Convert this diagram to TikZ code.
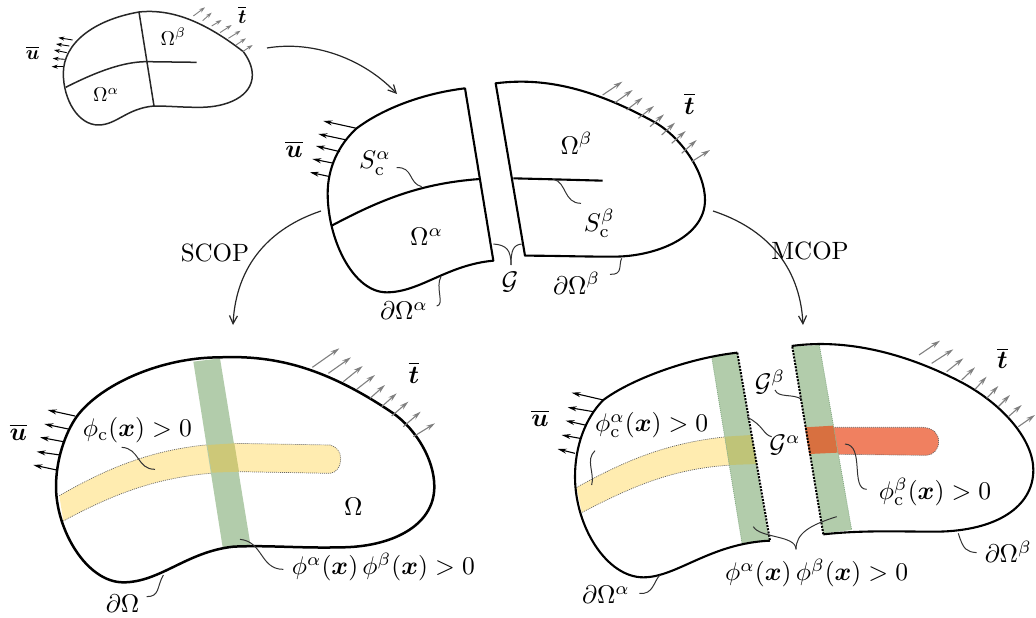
\documentclass[tikz,border=0pt]{standalone}
\usepackage{amsmath,bm}
\usetikzlibrary{arrows.meta}
\definecolor{bandgreen}{HTML}{B2CCAB}
\definecolor{bandyellow}{HTML}{FFECB0}
\definecolor{bandred}{HTML}{F08060}
\definecolor{overyellow}{HTML}{CDC878}
\definecolor{overgreen}{HTML}{BFC478}
\definecolor{overred}{HTML}{D87040}
\definecolor{tgray}{HTML}{808080}
\tikzset{
  lbl/.style={scale=2.55,inner sep=0pt},
  slbl/.style={scale=2.0,inner sep=0pt},
  rlbl/.style={scale=2.5,inner sep=0pt},
  bdy/.style={line width=2.1pt,black,line join=round},
  bdybig/.style={line width=2.5pt,black,line join=round},
  bdysmall/.style={line width=1.5pt,black!85,line join=round},
  leader/.style={line width=1pt,black!80},
  flow/.style={line width=1.2pt,black!85,-{Straight Barb[length=8pt,width=8pt]}},
  uarr/.style={line width=1.1pt,black,-{Stealth[length=9pt,width=5pt]}},
  tarr/.style={line width=1.1pt,tgray,-{Stealth[length=9pt,width=5pt]}},
  uarrs/.style={line width=0.9pt,black,-{Stealth[length=6pt,width=4pt]}},
  tarrs/.style={line width=0.9pt,tgray,-{Stealth[length=6pt,width=4pt]}},
  edgedot/.style={line width=2pt,black,dash pattern=on 2pt off 1.3pt},
  thindot/.style={line width=0.7pt,black!60,dash pattern=on 1pt off 1pt},
  greendot/.style={line width=0.7pt,green!30!black!50,dash pattern=on 1pt off 1pt}
}
\begin{document}
\begin{tikzpicture}[x=1pt,y=-1pt]
\useasboundingbox (0,0) rectangle (1036,618);

% ---------- small top-left body
\begin{scope}[shift={(0,0)},scale=1/3]
\draw[bdysmall] (417,36) .. controls (520,25) and (620,70) .. (730,155) .. controls (745,175) and (757,200) .. (757,225) .. controls (757,290) and (680,322) .. (600,322) .. controls (540,322) and (510,318) .. (462,318) .. controls (380,325) and (350,375) .. (295,375) .. controls (235,375) and (190,300) .. (190,220) .. controls (190,130) and (280,60) .. (417,36) -- cycle;
\draw[bdysmall] (417,36) -- (462,318);
\draw[bdysmall] (197,262) .. controls (290,215) and (370,185) .. (440,185) -- (590,187);
\foreach \a/\b/\c/\d in {218/120/175/113,208/138/168/132,200/158/162/150,194/178/158/175,190/200/155/200}
  \draw[uarrs] (\a,\b) -- (\c,\d);
\foreach \a/\b/\c/\d in {580/48/615/22,608/62/635/38,635/78/665/60,660/98/695/75,685/115/722/92,708/135/738/115,728/155/758/135}
  \draw[tarrs] (\a,\b) -- (\c,\d);
\node[slbl] (uS) at (98,158) {$\overline{\bm{u}}$};
\node[slbl] (tS) at (727,45) {$\overline{\bm{t}}$};
\node[slbl] (oaS) at (318,285) {$\Omega^{\alpha}$};
\node[slbl] (obS) at (520,110) {$\Omega^{\beta}$};
\end{scope}

% ---------- middle body
\begin{scope}[shift={(280,60)},scale=1/3]
\draw[bdy] (555,85) .. controls (430,100) and (310,145) .. (230,205) .. controls (175,255) and (143,325) .. (143,400) .. controls (143,540) and (220,697) .. (320,697) .. controls (420,697) and (500,615) .. (640,602) -- cycle;
\draw[bdy] (155,497) .. controls (300,420) and (420,370) .. (600,357);
\draw[bdy] (647,70) .. controls (800,50) and (950,90) .. (1130,190) .. controls (1210,240) and (1275,340) .. (1275,420) .. controls (1275,530) and (1130,590) .. (1000,590) .. controls (900,590) and (820,587) .. (735,587) -- cycle;
\draw[bdy] (700,355) -- (820,358) -- (968,362);
\foreach \a/\b/\c/\d in {230/205/130/183,200/240/115/222,180/275/108/258,162/310/97/297,150/350/90/337}
  \draw[uarr] (\a,\b) -- (\c,\d);
\foreach \a/\b/\c/\d in {968/105/1027/65,1005/128/1058/90,1040/150/1088/113,1075/175/1122/138,1110/200/1152/163,1145/225/1185/188,1175/250/1217/213,1205/280/1250/240,1235/305/1290/270}
  \draw[tarr] (\a,\b) -- (\c,\d);
\draw[leader] (350,323) .. controls (400,320) and (385,370) .. (425,380);
\draw[leader] (820,358) .. controls (860,365) and (850,430) .. (903,430);
\draw[leader] (640,552) .. controls (680,555) and (693,570) .. (693,615);
\draw[leader] (725,552) .. controls (700,555) and (693,570) .. (693,615);
\draw[leader] (483,650) .. controls (465,680) and (495,735) .. (470,738);
\draw[leader] (1025,595) .. controls (1015,615) and (1030,645) .. (990,643);
\node[lbl] (ob) at (890,250) {$\Omega^{\beta}$};
\node[lbl] (oa) at (440,530) {$\Omega^{\alpha}$};
\node[lbl] (sa) at (285,310) {$S_{\mathrm{c}}^{\alpha}$};
\node[lbl] (sb) at (958,490) {$S_{\mathrm{c}}^{\beta}$};
\node[lbl] (um) at (42,268) {$\overline{\bm{u}}$};
\node[lbl] (tm) at (1228,132) {$\overline{\bm{t}}$};
\node[lbl] (g) at (690,665) {$\mathcal{G}$};
\node[lbl] (dob) at (890,670) {$\partial\Omega^{\beta}$};
\node[lbl] (doa) at (372,752) {$\partial\Omega^{\alpha}$};
\end{scope}

% ---------- connectors between stages
\coordinate (a0) at (267,48);
\coordinate (a1) at (397,94);
\coordinate (b0) at (321,211);
\coordinate (b1) at (233,325);
\coordinate (c0) at (713,211);
\coordinate (c1) at (803,325);
\draw[flow] (a0) .. controls (315,40) and (365,60) .. (a1);
\draw[flow] (b0) .. controls (270,228) and (236,265) .. (b1);
\draw[flow] (c0) .. controls (765,228) and (800,265) .. (c1);
\node[rlbl] (scop) at (215,253) {SCOP};
\node[rlbl] (mcop) at (810,251) {MCOP};

% ---------- bottom-left body
\begin{scope}[shift={(0,330)},scale=1/3]
\path[fill=bandyellow] (178,497) .. controls (330,410) and (480,345) .. (700,340) -- (990,345) .. controls (1010,350) and (1022,365) .. (1022,385) .. controls (1022,410) and (1010,428) .. (990,430) -- (720,425) .. controls (520,430) and (380,470) .. (190,573) -- cycle;
\draw[thindot] (178,497) .. controls (330,410) and (480,345) .. (700,340) -- (990,345) .. controls (1010,350) and (1022,365) .. (1022,385) .. controls (1022,410) and (1010,428) .. (990,430) -- (720,425) .. controls (520,430) and (380,470) .. (190,573);
\fill[bandgreen] (580,95) -- (660,85) -- (752,648) -- (668,652) -- cycle;
\fill[overyellow] (622,345) -- (703,340) -- (717,425) -- (635,428) -- cycle;
\draw[bdybig] (168,470) .. controls (168,390) and (195,310) .. (230,260) .. controls (300,165) and (480,82) .. (660,82) .. controls (830,75) and (980,115) .. (1180,250) .. controls (1250,300) and (1303,390) .. (1303,470) .. controls (1303,590) and (1170,652) .. (1020,652) .. controls (900,655) and (800,645) .. (700,650) .. controls (560,665) and (480,757) .. (370,757) .. controls (260,757) and (168,600) .. (168,470) -- cycle;
\foreach \a/\b/\c/\d in {225/258/143/240,205/297/133/282,190/335/120/322,180/375/110/365,170/420/100/405}
  \draw[uarr] (\a,\b) -- (\c,\d);
\foreach \a/\b/\c/\d in {937/112/1018/55,985/130/1053/82,1030/155/1088/108,1070/178/1125/135,1110/205/1155/165,1145/230/1190/190,1175/258/1225/215,1210/290/1262/245,1240/320/1305/280}
  \draw[tarr] (\a,\b) -- (\c,\d);
\draw[leader] (365,352) .. controls (420,355) and (410,418) .. (465,418);
\draw[leader] (720,628) .. controls (790,635) and (780,718) .. (850,718);
\draw[leader] (490,735) .. controls (470,770) and (480,800) .. (440,800);
\node[lbl] (ul) at (55,308) {$\overline{\bm{u}}$};
\node[lbl] (tl) at (1242,128) {$\overline{\bm{t}}$};
\node[lbl] (pcl) at (412,300) {$\phi_{\mathrm{c}}(\bm{x})>0$};
\node[lbl] (ol) at (1060,530) {$\Omega$};
\node[lbl] (ppl) at (1150,712) {$\phi^{\alpha}(\bm{x})\,\phi^{\beta}(\bm{x})>0$};
\node[lbl] (dol) at (368,822) {$\partial\Omega$};
\end{scope}

% ---------- bottom-right bodies
\begin{scope}[shift={(530,330)},scale=1/3]
\fill[bandyellow] (140,472) .. controls (290,390) and (430,325) .. (665,315) -- (680,402) .. controls (480,405) and (360,440) .. (155,548) -- cycle;
\draw[thindot] (140,472) .. controls (290,390) and (430,325) .. (665,315);
\draw[thindot] (680,402) .. controls (480,405) and (360,440) .. (155,548);
\fill[bandgreen] (545,80) -- (622,70) -- (718,632) -- (636,640) -- cycle;
\fill[overgreen] (585,320) -- (665,315) -- (680,402) -- (598,405) -- cycle;
\fill[bandred] (825,292) -- (1180,292) .. controls (1210,295) and (1226,310) .. (1226,335) .. controls (1226,358) and (1210,375) .. (1190,376) -- (838,372) -- cycle;
\draw[thindot] (825,292) -- (1180,292) .. controls (1210,295) and (1226,310) .. (1226,335) .. controls (1226,358) and (1210,375) .. (1190,376) -- (838,372);
\fill[bandgreen] (787,50) -- (868,45) -- (965,600) -- (880,610) -- cycle;
\fill[overred] (825,292) -- (910,287) -- (923,368) -- (838,372) -- cycle;
\draw[greendot] (545,80) -- (636,640);
\draw[greendot] (868,45) -- (965,600);
\draw[bdy] (622,68) .. controls (470,85) and (300,150) .. (220,210) .. controls (165,265) and (135,350) .. (135,440) .. controls (135,590) and (230,742) .. (340,742) .. controls (440,742) and (540,640) .. (720,632);
\draw[bdy] (785,48) .. controls (950,25) and (1130,70) .. (1300,160) .. controls (1420,225) and (1510,330) .. (1510,420) .. controls (1510,530) and (1400,603) .. (1220,605) .. controls (1100,605) and (1000,600) .. (880,613);
\draw[edgedot] (622,68) -- (720,632);
\draw[edgedot] (787,50) -- (880,613);
\foreach \a/\b/\c/\d in {220/210/125/188,190/245/113/232,165/285/107/272,150/325/95/315,135/370/83/357}
  \draw[uarr] (\a,\b) -- (\c,\d);
\foreach \a/\b/\c/\d in {1167/75/1230/32,1205/100/1270/58,1250/125/1300/85,1295/150/1335/112,1335/178/1370/140,1370/205/1405/168,1405/230/1440/195,1435/260/1475/225,1465/290/1515/255}
  \draw[tarr] (\a,\b) -- (\c,\d);
\draw[leader] (735,180) .. controls (745,205) and (790,190) .. (815,208);
\draw[leader] (652,262) .. controls (700,285) and (700,315) .. (725,320);
\draw[leader] (195,362) .. controls (165,390) and (195,430) .. (185,465);
\draw[leader] (945,342) .. controls (1005,345) and (960,478) .. (1010,478);
\draw[leader] (670,590) .. controls (690,625) and (798,615) .. (798,658);
\draw[leader] (920,560) .. controls (840,585) and (798,610) .. (798,658);
\draw[leader] (390,735) .. controls (370,755) and (370,795) .. (328,790);
\draw[leader] (1285,610) .. controls (1300,660) and (1310,665) .. (1340,668);
\node[lbl] (ur) at (30,265) {$\overline{\bm{u}}$};
\node[lbl] (tr) at (1417,85) {$\overline{\bm{t}}$};
\node[lbl] (pca) at (365,285) {$\phi_{\mathrm{c}}^{\alpha}(\bm{x})>0$};
\node[lbl] (gb) at (720,155) {$\mathcal{G}^{\beta}$};
\node[lbl] (ga) at (765,345) {$\mathcal{G}^{\alpha}$};
\node[lbl] (pcb) at (1215,485) {$\phi_{\mathrm{c}}^{\beta}(\bm{x})>0$};
\node[lbl] (ppr) at (860,730) {$\phi^{\alpha}(\bm{x})\,\phi^{\beta}(\bm{x})>0$};
\node[lbl] (doar) at (228,795) {$\partial\Omega^{\alpha}$};
\node[lbl] (dobr) at (1435,665) {$\partial\Omega^{\beta}$};
\end{scope}
\end{tikzpicture}
\end{document}
